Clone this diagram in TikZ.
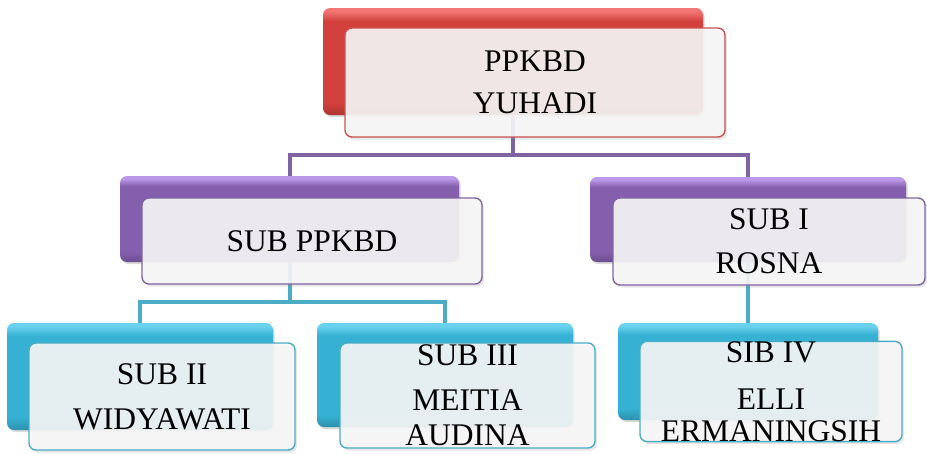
\documentclass[tikz,border=0pt]{standalone}
\usepackage{fontspec}
\setmainfont{Liberation Serif}
\usetikzlibrary{shadows, backgrounds}

\definecolor{redtop}{HTML}{F27673}
\definecolor{redmain}{HTML}{D2413E}
\definecolor{redline}{HTML}{C65450}
\definecolor{purptop}{HTML}{BC98E8}
\definecolor{purpmain}{HTML}{845FAE}
\definecolor{purpline}{HTML}{8064A2}
\definecolor{tealtop}{HTML}{6AD2EE}
\definecolor{tealmain}{HTML}{36B1D3}
\definecolor{tealline}{HTML}{4BACC6}

% Glossy fill of the back boxes
\newcommand\glossshading[1]{%
	\pgfdeclareverticalshading{#1gloss}{100bp}{color(0bp)=(#1main!75!black); color(25bp)=(#1main!82!black);
		color(31bp)=(#1main); color(69bp)=(#1main); color(73.5bp)=(#1top); color(100bp)=(#1top)}}
\glossshading{red}
\glossshading{purp}
\glossshading{teal}

\begin{document}
\begin{tikzpicture}[x = 1pt, y = -1pt,
	back/.style = {rounded corners = 7pt, inner sep = 0pt, shading = #1gloss,
		drop shadow = {shadow xshift = 1.5pt, shadow yshift = -2pt, opacity = 0.3}},
	front/.style = {draw = #1line, line width = 1.4pt, rounded corners = 7pt, fill = black!3!white, fill opacity = 0.9, text opacity = 1,
		align = center, inner sep = 0pt, font = \fontsize{31.5}{34}\selectfont,
		drop shadow = {shadow xshift = 2pt, shadow yshift = -2.5pt, opacity = 0.2}},
	link/.style = {line width = 4pt, #1line}]

	\useasboundingbox (0, 0) rectangle (927, 453);

	% Head

	\node [back = red, minimum width = 380, minimum height = 107] (headb) at (513, 61.5) {};
	\node [front = red, minimum width = 380, minimum height = 109] (head) at (535, 82.5) {PPKBD\\[8pt]YUHADI};

	% Second row

	\node [back = purp, minimum width = 339, minimum height = 86] (ppkbdb) at (289.5, 219) {};
	\node [front = purp, minimum width = 340, minimum height = 86] (ppkbd) at (312, 241) {SUB PPKBD};

	\node [back = purp, minimum width = 316, minimum height = 85] (subib) at (748, 219.5) {};
	\node [front = purp, minimum width = 312, minimum height = 87] (subi) at (769, 241.5) {SUB I\\[10pt]ROSNA};

	% Third row

	\node [back = teal, minimum width = 266, minimum height = 107] (subiib) at (140, 376.5) {};
	\node [front = teal, minimum width = 266, minimum height = 107] (subii) at (162, 396.5) {SUB II\\[11pt]WIDYAWATI};

	\node [back = teal, minimum width = 256, minimum height = 104] (subiiib) at (445, 375) {};
	\node [front = teal, minimum width = 255, minimum height = 105] (subiii) at (467.5, 395.5) {SUB III\\[11pt]MEITIA\\[1pt]AUDINA};

	\node [back = teal, minimum width = 260, minimum height = 97] (subivb) at (748, 371.5) {};
	\node [front = teal, minimum width = 262, minimum height = 97] (subiv) at (771, 391.5) {SIB IV\\[13pt]ELLI\\[-2pt]ERMANINGSIH};

	% Links

	\begin{scope}[on background layer]
		\draw [link = purp] (headb.south) -- ++(0, 40) -| (ppkbdb.north);
		\draw [link = purp] (headb.south) -- ++(0, 40) -| (subib.north);
		\draw [link = teal] (ppkbdb.south) -- ++(0, 40) -| (subiib.north);
		\draw [link = teal] (ppkbdb.south) -- ++(0, 40) -| (subiiib.north);
		\draw [link = teal] (subib.south) -- (subivb.north);
	\end{scope}

\end{tikzpicture}
\end{document}
